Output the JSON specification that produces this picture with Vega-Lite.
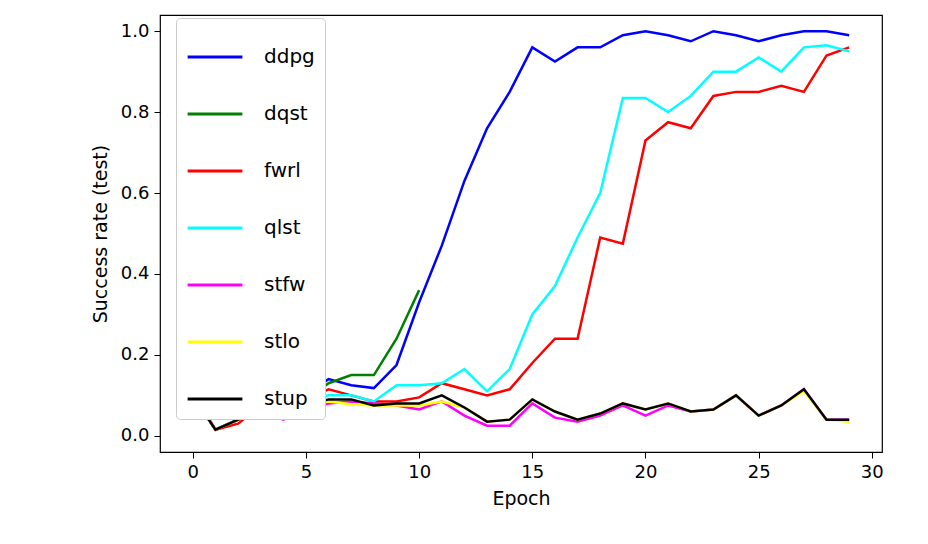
{
"$schema":"https://vega.github.io/schema/vega-lite/v6.json",
"width":722,"height":437,
"autosize":{"type":"none"},
"padding":{"left":160,"top":15,"right":46,"bottom":92},
"background":"white",
"config":{"view":{"stroke":"black","strokeWidth":1.2},"font":"DejaVu Sans"},
"data":{"values":[
{"m":"ddpg","e":0,"v":0.10},{"m":"ddpg","e":1,"v":0.015},{"m":"ddpg","e":2,"v":0.04},{"m":"ddpg","e":3,"v":0.065},{"m":"ddpg","e":4,"v":0.07},{"m":"ddpg","e":5,"v":0.105},{"m":"ddpg","e":6,"v":0.14},{"m":"ddpg","e":7,"v":0.125},{"m":"ddpg","e":8,"v":0.118},{"m":"ddpg","e":9,"v":0.175},{"m":"ddpg","e":10,"v":0.33},{"m":"ddpg","e":11,"v":0.47},{"m":"ddpg","e":12,"v":0.63},{"m":"ddpg","e":13,"v":0.76},{"m":"ddpg","e":14,"v":0.85},{"m":"ddpg","e":15,"v":0.96},{"m":"ddpg","e":16,"v":0.925},{"m":"ddpg","e":17,"v":0.96},{"m":"ddpg","e":18,"v":0.96},{"m":"ddpg","e":19,"v":0.99},{"m":"ddpg","e":20,"v":1.0},{"m":"ddpg","e":21,"v":0.99},{"m":"ddpg","e":22,"v":0.975},{"m":"ddpg","e":23,"v":1.0},{"m":"ddpg","e":24,"v":0.99},{"m":"ddpg","e":25,"v":0.975},{"m":"ddpg","e":26,"v":0.99},{"m":"ddpg","e":27,"v":1.0},{"m":"ddpg","e":28,"v":1.0},{"m":"ddpg","e":29,"v":0.99},
{"m":"dqst","e":0,"v":0.10},{"m":"dqst","e":1,"v":0.015},{"m":"dqst","e":2,"v":0.04},{"m":"dqst","e":3,"v":0.065},{"m":"dqst","e":4,"v":0.06},{"m":"dqst","e":5,"v":0.09},{"m":"dqst","e":6,"v":0.13},{"m":"dqst","e":7,"v":0.15},{"m":"dqst","e":8,"v":0.15},{"m":"dqst","e":9,"v":0.24},{"m":"dqst","e":10,"v":0.36},
{"m":"fwrl","e":0,"v":0.10},{"m":"fwrl","e":1,"v":0.015},{"m":"fwrl","e":2,"v":0.03},{"m":"fwrl","e":3,"v":0.075},{"m":"fwrl","e":4,"v":0.075},{"m":"fwrl","e":5,"v":0.09},{"m":"fwrl","e":6,"v":0.115},{"m":"fwrl","e":7,"v":0.1},{"m":"fwrl","e":8,"v":0.085},{"m":"fwrl","e":9,"v":0.085},{"m":"fwrl","e":10,"v":0.095},{"m":"fwrl","e":11,"v":0.13},{"m":"fwrl","e":12,"v":0.115},{"m":"fwrl","e":13,"v":0.1},{"m":"fwrl","e":14,"v":0.115},{"m":"fwrl","e":15,"v":0.18},{"m":"fwrl","e":16,"v":0.24},{"m":"fwrl","e":17,"v":0.24},{"m":"fwrl","e":18,"v":0.49},{"m":"fwrl","e":19,"v":0.475},{"m":"fwrl","e":20,"v":0.73},{"m":"fwrl","e":21,"v":0.775},{"m":"fwrl","e":22,"v":0.76},{"m":"fwrl","e":23,"v":0.84},{"m":"fwrl","e":24,"v":0.85},{"m":"fwrl","e":25,"v":0.85},{"m":"fwrl","e":26,"v":0.865},{"m":"fwrl","e":27,"v":0.85},{"m":"fwrl","e":28,"v":0.94},{"m":"fwrl","e":29,"v":0.96},
{"m":"qlst","e":0,"v":0.10},{"m":"qlst","e":1,"v":0.015},{"m":"qlst","e":2,"v":0.04},{"m":"qlst","e":3,"v":0.065},{"m":"qlst","e":4,"v":0.055},{"m":"qlst","e":5,"v":0.09},{"m":"qlst","e":6,"v":0.1},{"m":"qlst","e":7,"v":0.1},{"m":"qlst","e":8,"v":0.085},{"m":"qlst","e":9,"v":0.125},{"m":"qlst","e":10,"v":0.125},{"m":"qlst","e":11,"v":0.13},{"m":"qlst","e":12,"v":0.165},{"m":"qlst","e":13,"v":0.11},{"m":"qlst","e":14,"v":0.165},{"m":"qlst","e":15,"v":0.3},{"m":"qlst","e":16,"v":0.37},{"m":"qlst","e":17,"v":0.49},{"m":"qlst","e":18,"v":0.6},{"m":"qlst","e":19,"v":0.835},{"m":"qlst","e":20,"v":0.835},{"m":"qlst","e":21,"v":0.8},{"m":"qlst","e":22,"v":0.84},{"m":"qlst","e":23,"v":0.9},{"m":"qlst","e":24,"v":0.9},{"m":"qlst","e":25,"v":0.935},{"m":"qlst","e":26,"v":0.9},{"m":"qlst","e":27,"v":0.96},{"m":"qlst","e":28,"v":0.965},{"m":"qlst","e":29,"v":0.95},
{"m":"stfw","e":0,"v":0.11},{"m":"stfw","e":1,"v":0.015},{"m":"stfw","e":2,"v":0.04},{"m":"stfw","e":3,"v":0.065},{"m":"stfw","e":4,"v":0.04},{"m":"stfw","e":5,"v":0.065},{"m":"stfw","e":6,"v":0.08},{"m":"stfw","e":7,"v":0.085},{"m":"stfw","e":8,"v":0.08},{"m":"stfw","e":9,"v":0.075},{"m":"stfw","e":10,"v":0.065},{"m":"stfw","e":11,"v":0.085},{"m":"stfw","e":12,"v":0.05},{"m":"stfw","e":13,"v":0.025},{"m":"stfw","e":14,"v":0.025},{"m":"stfw","e":15,"v":0.08},{"m":"stfw","e":16,"v":0.045},{"m":"stfw","e":17,"v":0.035},{"m":"stfw","e":18,"v":0.05},{"m":"stfw","e":19,"v":0.075},{"m":"stfw","e":20,"v":0.05},{"m":"stfw","e":21,"v":0.075},{"m":"stfw","e":22,"v":0.06},{"m":"stfw","e":23,"v":0.065},{"m":"stfw","e":24,"v":0.1},{"m":"stfw","e":25,"v":0.05},{"m":"stfw","e":26,"v":0.075},{"m":"stfw","e":27,"v":0.115},{"m":"stfw","e":28,"v":0.04},{"m":"stfw","e":29,"v":0.04},
{"m":"stlo","e":0,"v":0.10},{"m":"stlo","e":1,"v":0.015},{"m":"stlo","e":2,"v":0.04},{"m":"stlo","e":3,"v":0.065},{"m":"stlo","e":4,"v":0.05},{"m":"stlo","e":5,"v":0.075},{"m":"stlo","e":6,"v":0.085},{"m":"stlo","e":7,"v":0.078},{"m":"stlo","e":8,"v":0.075},{"m":"stlo","e":9,"v":0.075},{"m":"stlo","e":10,"v":0.075},{"m":"stlo","e":11,"v":0.085},{"m":"stlo","e":12,"v":0.07},{"m":"stlo","e":13,"v":0.035},{"m":"stlo","e":14,"v":0.04},{"m":"stlo","e":15,"v":0.09},{"m":"stlo","e":16,"v":0.06},{"m":"stlo","e":17,"v":0.04},{"m":"stlo","e":18,"v":0.055},{"m":"stlo","e":19,"v":0.08},{"m":"stlo","e":20,"v":0.065},{"m":"stlo","e":21,"v":0.08},{"m":"stlo","e":22,"v":0.06},{"m":"stlo","e":23,"v":0.065},{"m":"stlo","e":24,"v":0.1},{"m":"stlo","e":25,"v":0.05},{"m":"stlo","e":26,"v":0.075},{"m":"stlo","e":27,"v":0.11},{"m":"stlo","e":28,"v":0.04},{"m":"stlo","e":29,"v":0.035},
{"m":"stup","e":0,"v":0.10},{"m":"stup","e":1,"v":0.015},{"m":"stup","e":2,"v":0.04},{"m":"stup","e":3,"v":0.065},{"m":"stup","e":4,"v":0.05},{"m":"stup","e":5,"v":0.075},{"m":"stup","e":6,"v":0.09},{"m":"stup","e":7,"v":0.09},{"m":"stup","e":8,"v":0.075},{"m":"stup","e":9,"v":0.08},{"m":"stup","e":10,"v":0.08},{"m":"stup","e":11,"v":0.1},{"m":"stup","e":12,"v":0.07},{"m":"stup","e":13,"v":0.035},{"m":"stup","e":14,"v":0.04},{"m":"stup","e":15,"v":0.09},{"m":"stup","e":16,"v":0.06},{"m":"stup","e":17,"v":0.04},{"m":"stup","e":18,"v":0.055},{"m":"stup","e":19,"v":0.08},{"m":"stup","e":20,"v":0.065},{"m":"stup","e":21,"v":0.08},{"m":"stup","e":22,"v":0.06},{"m":"stup","e":23,"v":0.065},{"m":"stup","e":24,"v":0.1},{"m":"stup","e":25,"v":0.05},{"m":"stup","e":26,"v":0.075},{"m":"stup","e":27,"v":0.115},{"m":"stup","e":28,"v":0.04},{"m":"stup","e":29,"v":0.04}
]},
"mark":{"type":"line","strokeWidth":2.5},
"encoding":{
"x":{"field":"e","type":"quantitative","scale":{"domain":[-1.45,30.45],"nice":false,"zero":false},
 "axis":{"values":[0,5,10,15,20,25,30],"title":"Epoch","grid":false,"domain":false,"tickColor":"black","tickSize":6,"labelFontSize":18,"labelColor":"black","titleFontSize":19,"titleFontWeight":"normal","titleColor":"black","labelPadding":5,"titlePadding":8}},
"y":{"field":"v","type":"quantitative","scale":{"domain":[-0.04,1.04],"nice":false,"zero":false},
 "axis":{"values":[0,0.2,0.4,0.6,0.8,1.0],"format":".1f","title":"Success rate (test)","grid":false,"domain":false,"tickColor":"black","tickSize":6,"labelFontSize":18,"labelColor":"black","titleFontSize":19,"titleFontWeight":"normal","titleColor":"black","labelPadding":5,"titlePadding":10}},
"color":{"field":"m","type":"nominal","scale":{"domain":["ddpg","dqst","fwrl","qlst","stfw","stlo","stup"],"range":["#0000ff","#008000","#ff0000","#00ffff","#ff00ff","#ffff00","#000000"]},
 "legend":{"title":null,"orient":"none","legendX":16,"legendY":3,"symbolType":"stroke","symbolStrokeWidth":3,"symbolSize":3000,"labelFontSize":20,"labelColor":"black","rowPadding":18,"padding":10,"strokeColor":"#cccccc","fillColor":"white","cornerRadius":4,"labelOffset":20}}
}
}
